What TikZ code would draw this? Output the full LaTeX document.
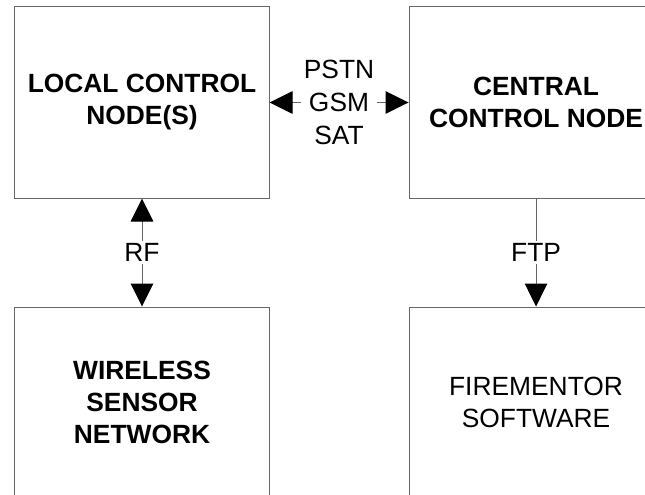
\documentclass[tikz,border=0pt]{standalone}
\usepackage{fontspec}
\setmainfont{Liberation Sans}
\usetikzlibrary{arrows.meta}
\usetikzlibrary{positioning}

\begin{document}
\begin{tikzpicture}[x=0.04cm,y=-0.04cm,
  block/.style={draw=black!60,line width=1.1pt,minimum width=10.16cm,minimum height=7.64cm,
    align=center,font=\fontsize{30}{36.4}\selectfont},
  link/.style={draw=black!60,line width=1.1pt},
  lbl/.style={fill=white,inner sep=3pt,align=center,font=\fontsize{30}{37.5}\selectfont},
  bigtri/.tip={Triangle[color=black,length=0.92cm,width=0.9cm]}]
\clip (0,0) rectangle (645,495);

\node[block] (local) at (142,102.5) {\bfseries LOCAL CONTROL\\\bfseries NODE(S)};
\node[block,right=5.56cm of local] (central) {\bfseries CENTRAL\\\bfseries CONTROL NODE};
\node[block,below=4.32cm of local] (wsn) {\bfseries WIRELESS\\\bfseries SENSOR\\\bfseries NETWORK};
\node[block,below=4.32cm of central] (fms) {FIREMENTOR\\SOFTWARE};

\draw[link,bigtri-bigtri] (local) -- node[lbl] {PSTN\\GSM\\SAT} (central);
\draw[link,bigtri-bigtri] (local) -- node[lbl] {RF} (wsn);
\draw[link,-bigtri] (central) -- node[lbl] {FTP} (fms);

\end{tikzpicture}
\end{document}
